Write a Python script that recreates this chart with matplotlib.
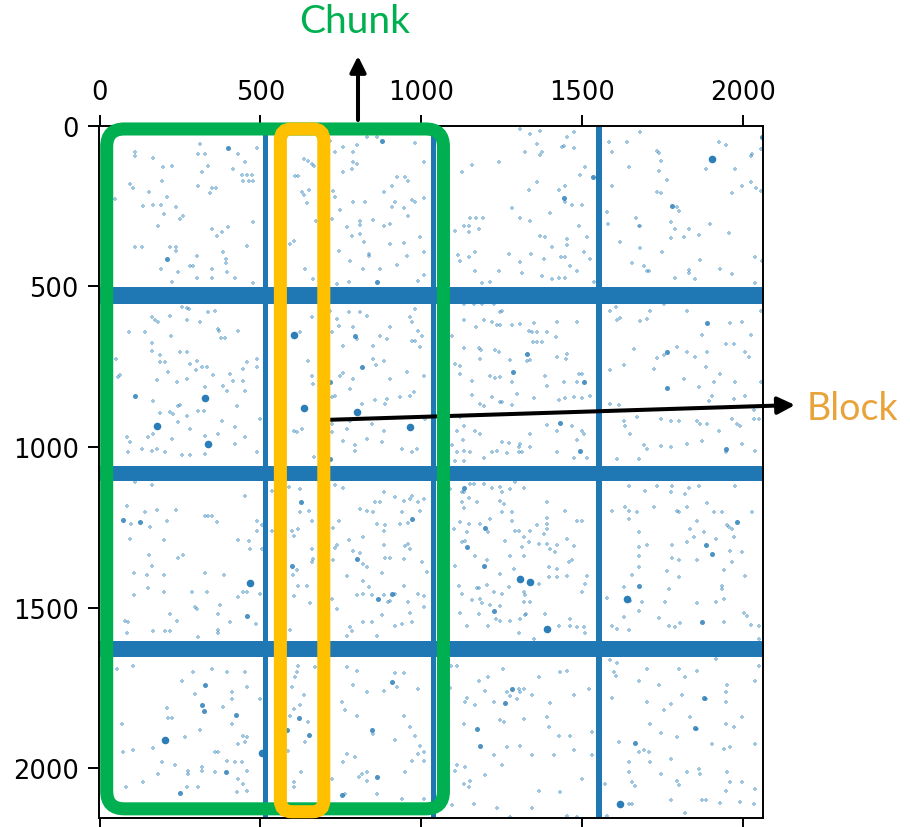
import numpy as np
import matplotlib
matplotlib.use("Agg")
import matplotlib.pyplot as plt
from matplotlib.patches import FancyBboxPatch

# matrix shape (rows, cols) of the spy plot
N_ROWS, N_COLS = 2156, 2064
ticks = [0, 500, 1000, 1500, 2000]

# dense rows / columns (inclusive index ranges)
dense_rows = [(503, 553), (1058, 1105), (1603, 1654)]
dense_cols = [(508, 524), (1030, 1046), (1545, 1563)]

# scattered nonzeros, (col, row), grouped by block row
dots_0 = [
    (110, 83), (110, 93), (167, 101), (312, 57), (307, 88), (328, 88), (431, 88), (489, 70), (452, 112),
    (198, 129), (224, 124), (338, 124), (317, 145), (442, 153), (457, 153), (473, 153), (447, 171),
    (463, 171), (478, 171), (416, 135), (193, 171), (94, 181), (105, 195), (155, 205), (307, 188),
    (349, 195), (362, 195), (343, 209), (209, 223), (48, 228), (136, 251), (167, 247), (190, 247),
    (238, 254), (200, 275), (250, 290), (258, 282), (183, 311), (478, 298), (349, 321), (380, 330),
    (398, 316), (364, 344), (110, 378), (131, 378), (219, 378), (238, 378), (238, 389), (457, 375),
    (385, 394), (302, 404), (393, 415), (393, 427), (281, 438), (289, 438), (190, 446), (245, 456),
    (349, 446), (395, 456), (302, 473), (349, 475), (421, 473), (478, 490), (224, 487),
    (634, 103), (649, 109), (660, 119), (665, 124), (608, 157), (618, 157), (628, 205), (634, 215),
    (652, 199), (646, 240), (673, 295), (605, 358), (592, 368), (639, 446), (663, 477), (686, 485),
    (717, 46), (758, 65), (800, 60), (831, 36), (862, 36), (981, 54), (732, 83), (789, 83), (789, 112),
    (758, 143), (784, 135), (800, 119), (1007, 114), (924, 161), (950, 161), (960, 171), (883, 205),
    (908, 186), (732, 223), (727, 202), (789, 238), (826, 236), (919, 236), (908, 254), (945, 257),
    (971, 230), (981, 236), (1007, 226), (748, 261), (722, 290), (769, 316), (808, 295), (810, 309),
    (851, 292), (960, 280), (903, 306), (883, 311), (784, 344), (810, 337), (822, 363), (903, 368),
    (945, 365), (997, 347), (743, 389), (839, 399), (839, 406), (955, 404), (1007, 392), (924, 432),
    (777, 420), (820, 446), (872, 446), (737, 492), (774, 487), (1007, 466), (991, 482),
    (1308, 10), (1339, 26), (1370, 15), (1453, 36), (1474, 18), (1241, 114), (1158, 122), (1127, 145),
    (1324, 83), (1360, 57), (1370, 91), (1375, 83), (1438, 67), (1443, 62), (1474, 70), (1510, 127),
    (1495, 153), (1360, 176), (1334, 199), (1427, 199), (1448, 186), (1446, 238), (1469, 247),
    (1500, 247), (1282, 257), (1308, 288), (1339, 295), (1399, 272), (1152, 287), (1171, 287),
    (1192, 287), (1132, 311), (1147, 311), (1150, 332), (1178, 321), (1106, 328), (1370, 342),
    (1386, 347), (1453, 352), (1453, 371), (1489, 311), (1515, 347), (1407, 378), (1113, 402),
    (1121, 420), (1147, 409), (1166, 394), (1272, 399), (1342, 399), (1434, 409), (1446, 407),
    (1308, 423), (1381, 415), (1505, 394), (1526, 415), (1168, 451), (1241, 451), (1313, 458),
    (1375, 468), (1407, 477), (1427, 475), (1448, 475), (1189, 490), (1213, 485), (1536, 487),
    (1484, 451), (1464, 435),
    (1583, 52), (1640, 52), (1681, 18), (1593, 83), (1645, 129), (1733, 78), (1738, 85), (1744, 109),
    (1738, 140), (1764, 169), (1925, 52), (1946, 60), (1977, 135), (2029, 88), (2024, 93), (2055, 72),
    (1884, 135), (1593, 188), (1733, 205), (1744, 209), (1795, 254), (1801, 264), (1998, 186),
    (2024, 176), (2042, 195), (2055, 202), (1966, 209), (1578, 267), (1557, 295), (1580, 306),
    (1669, 287), (1676, 311), (1681, 313), (1775, 300), (1790, 321), (1832, 321), (1816, 347),
    (1775, 350), (1863, 340), (1897, 306), (1956, 334), (1617, 363), (1681, 381), (1749, 392),
    (1655, 427), (1692, 435), (1702, 451), (1790, 475), (1832, 448), (1832, 458), (1868, 417),
    (1930, 446), (1966, 461), (2039, 409), (2060, 420), (1852, 477), (1707, 451), (2039, 490),
]
dots_1 = [
    (255, 565), (271, 568), (279, 570), (162, 596), (172, 606), (183, 610), (219, 591), (271, 606),
    (312, 612), (359, 575), (338, 580), (369, 632), (372, 638), (431, 638), (390, 661), (378, 661),
    (91, 643), (141, 643), (221, 653), (162, 700), (162, 676), (250, 703), (271, 703), (188, 715),
    (51, 726), (302, 731), (300, 759), (317, 752), (333, 752), (188, 736), (203, 736), (63, 775),
    (58, 783), (214, 765), (281, 741), (354, 775), (406, 772), (447, 757), (457, 736), (489, 752),
    (489, 726), (177, 790), (240, 798), (271, 788), (385, 809), (416, 793), (447, 793), (328, 814),
    (395, 824), (452, 824), (167, 858), (250, 869), (245, 873), (307, 889), (323, 889), (219, 892),
    (229, 897), (188, 894), (271, 902), (426, 873), (245, 923), (281, 943), (380, 918), (421, 938),
    (84, 969), (94, 985), (151, 969), (167, 959), (224, 975), (328, 966), (369, 959), (421, 990),
    (452, 969), (499, 912), (89, 1016), (131, 1006), (162, 1011), (203, 1016), (255, 1026),
    (281, 1026), (328, 1021), (489, 1016), (177, 1006),
    (660, 596), (623, 643), (603, 949), (613, 952), (628, 945), (649, 731), (660, 778), (663, 803),
    (717, 575), (737, 601), (774, 580), (810, 580), (831, 591), (789, 627), (800, 663), (743, 622),
    (722, 643), (758, 684), (851, 684), (872, 653), (893, 663), (965, 596), (971, 612), (981, 570),
    (991, 638), (1002, 653), (971, 669), (981, 669), (997, 689), (903, 627), (851, 726), (883, 731),
    (860, 746), (748, 778), (758, 769), (789, 788), (779, 819), (732, 840), (722, 845), (815, 866),
    (857, 855), (893, 850), (888, 866), (934, 845), (965, 840), (976, 829), (903, 788), (955, 767),
    (1007, 778), (1012, 912), (779, 918), (846, 928), (883, 949), (722, 928), (696, 923), (769, 943),
    (831, 975), (758, 980), (794, 993), (794, 1011), (877, 985), (940, 1006), (971, 1016),
    (986, 1006), (665, 1032), (722, 954),
    (1132, 555), (1163, 555), (1189, 555), (1225, 555), (1246, 580), (1251, 575), (1132, 604),
    (1194, 604), (1220, 610), (1235, 620), (1246, 620), (1171, 627), (1282, 620), (1306, 617),
    (1334, 638), (1344, 643), (1360, 641), (1349, 615), (1391, 641), (1422, 610), (1484, 612),
    (1420, 656), (1347, 672), (1360, 672), (1375, 672), (1095, 653), (1132, 692), (1178, 692),
    (1186, 697), (1230, 697), (1241, 703), (1329, 731), (1339, 728), (1422, 720), (1453, 710),
    (1451, 726), (1277, 728), (1184, 726), (1106, 741), (1119, 748), (1119, 772), (1215, 778),
    (1230, 786), (1246, 783), (1282, 798), (1158, 795), (1386, 778), (1489, 772), (1500, 772),
    (1484, 798), (1443, 796), (1391, 809), (1158, 838), (1184, 866), (1194, 871), (1220, 845),
    (1246, 860), (1251, 860), (1298, 835), (1282, 868), (1349, 848), (1427, 855), (1448, 848),
    (1474, 845), (1500, 848), (1526, 840), (1121, 907), (1132, 933), (1111, 949), (1168, 949),
    (1184, 959), (1130, 977), (1251, 983), (1272, 987), (1308, 990), (1303, 1000), (1339, 1000),
    (1391, 931), (1422, 949), (1469, 933), (1500, 949), (1505, 959), (1484, 977), (1339, 959),
    (1095, 995), (1111, 1016), (1132, 1011), (1152, 1014), (1106, 1042), (1132, 1042), (1194, 1035),
    (1220, 1014), (1235, 1011), (1267, 1018), (1303, 1016), (1313, 1014), (1422, 1016), (1474, 1035),
    (1515, 1035),
    (1588, 575), (1604, 565), (1619, 599), (1609, 606), (1681, 607), (1702, 601), (1712, 575),
    (1754, 555), (1826, 575), (1959, 614), (1998, 612), (2024, 651), (2055, 578), (1873, 651),
    (1946, 679), (1972, 679), (1889, 705), (1754, 713), (1826, 705), (1795, 689), (1661, 695),
    (2008, 703), (2018, 720), (1852, 720), (1884, 752), (1733, 724), (1723, 757), (1629, 746),
    (1588, 759), (1863, 814), (1816, 788), (1909, 796), (1930, 772), (1977, 798), (2055, 798),
    (2008, 842), (1972, 850), (1904, 840), (1894, 858), (2034, 886), (1588, 866), (1614, 868),
    (1629, 918), (1635, 933), (1671, 907), (1744, 912), (1775, 920), (1801, 918), (1858, 918),
    (1868, 928), (1889, 928), (1925, 949), (1966, 912), (1982, 928), (1992, 933), (2034, 912),
    (2049, 912), (1692, 995), (1702, 1006), (1744, 997), (1775, 1000), (1826, 990), (1873, 980),
    (1946, 1016), (1998, 990), (2039, 1011), (1609, 1037), (1676, 1037), (1650, 959),
]
dots_2 = [
    (110, 1110), (162, 1118), (84, 1182), (141, 1203), (177, 1195), (238, 1195), (97, 1241),
    (157, 1248), (209, 1229), (328, 1216), (338, 1216), (349, 1216), (364, 1234), (452, 1153),
    (489, 1229), (489, 1260), (94, 1286), (200, 1288), (431, 1288), (463, 1293), (466, 1317),
    (504, 1244), (504, 1317), (155, 1335), (162, 1369), (245, 1346), (258, 1335), (108, 1393),
    (148, 1398), (200, 1398), (328, 1393), (388, 1398), (151, 1439), (200, 1450), (286, 1450),
    (335, 1452), (447, 1452), (457, 1452), (429, 1467), (108, 1462), (499, 1457), (297, 1498),
    (302, 1504), (374, 1491), (219, 1521), (369, 1521), (79, 1540), (89, 1545), (242, 1540),
    (167, 1573), (203, 1573), (219, 1573), (84, 1578), (369, 1568), (369, 1578), (307, 1590),
    (406, 1545), (486, 1552),
    (535, 1136), (590, 1125), (623, 1130), (535, 1260), (597, 1260), (603, 1276), (618, 1255),
    (623, 1203), (652, 1200), (660, 1229), (600, 1398), (613, 1384), (618, 1433), (644, 1433),
    (603, 1465), (660, 1317), (663, 1348), (660, 1358), (654, 1486), (592, 1568), (732, 1118),
    (758, 1128), (883, 1141), (919, 1154), (857, 1172), (872, 1172), (743, 1229), (810, 1193),
    (831, 1198), (851, 1203), (727, 1252), (774, 1288), (820, 1281), (862, 1239), (883, 1260),
    (888, 1244), (945, 1167), (965, 1161), (971, 1151), (991, 1172), (997, 1198), (1007, 1161),
    (940, 1203), (934, 1239), (960, 1237), (965, 1317), (960, 1301), (950, 1307), (883, 1305),
    (737, 1305), (732, 1315), (789, 1322), (808, 1330), (820, 1364), (831, 1374), (888, 1346),
    (903, 1346), (945, 1348), (1002, 1358), (1017, 1390), (877, 1393), (727, 1350), (769, 1400),
    (820, 1416), (836, 1436), (800, 1462), (820, 1457), (846, 1459), (883, 1462), (919, 1457),
    (898, 1483), (903, 1478), (960, 1481), (991, 1457), (1007, 1464), (945, 1431), (722, 1473),
    (737, 1504), (779, 1561), (784, 1574), (820, 1545), (846, 1545), (862, 1587), (877, 1524),
    (919, 1556), (940, 1550), (971, 1545), (965, 1516), (1007, 1498), (769, 1587),
    (1090, 1130), (1127, 1139), (1132, 1141), (1152, 1115), (1163, 1115), (1194, 1115), (1220, 1128),
    (1246, 1125), (1251, 1141), (1277, 1130), (1292, 1108), (1318, 1128), (1127, 1172), (1132, 1190),
    (1147, 1159), (1173, 1172), (1246, 1167), (1256, 1177), (1215, 1224), (1184, 1239), (1147, 1239),
    (1121, 1234), (1251, 1203), (1282, 1203), (1282, 1229), (1142, 1265), (1137, 1291), (1127, 1296),
    (1101, 1255), (1209, 1265), (1261, 1291), (1292, 1260), (1303, 1260), (1318, 1281), (1339, 1260),
    (1360, 1244), (1391, 1222), (1391, 1239), (1391, 1255), (1381, 1270), (1391, 1301), (1334, 1296),
    (1365, 1301), (1313, 1312), (1318, 1338), (1401, 1317), (1422, 1305), (1417, 1327), (1453, 1286),
    (1474, 1307), (1448, 1198), (1484, 1229), (1500, 1229), (1391, 1172), (1168, 1338), (1204, 1350),
    (1106, 1369), (1246, 1395), (1277, 1338), (1287, 1379), (1396, 1374), (1422, 1379), (1458, 1358),
    (1469, 1353), (1396, 1405), (1422, 1405), (1453, 1400), (1515, 1400), (1510, 1426), (1500, 1452),
    (1116, 1431), (1127, 1457), (1173, 1439), (1178, 1439), (1158, 1475), (1184, 1473), (1189, 1485),
    (1215, 1493), (1246, 1495), (1204, 1429), (1225, 1450), (1251, 1457), (1272, 1436), (1318, 1450),
    (1318, 1481), (1339, 1481), (1324, 1462), (1365, 1426), (1121, 1516), (1178, 1519), (1233, 1535),
    (1246, 1540), (1308, 1535), (1324, 1524), (1327, 1519), (1386, 1521), (1142, 1556), (1209, 1556),
    (1303, 1578), (1427, 1556), (1464, 1535), (1462, 1556), (1484, 1561), (1505, 1561), (1510, 1578),
    (1277, 1540), (1349, 1597),
    (1645, 1122), (1697, 1136), (1733, 1120), (1775, 1141), (1780, 1120), (1821, 1146), (1832, 1128),
    (1863, 1120), (1977, 1122), (1593, 1198), (1635, 1187), (1645, 1198), (1645, 1224), (1671, 1203),
    (1723, 1187), (1795, 1198), (1801, 1203), (1826, 1187), (1858, 1229), (1889, 1174), (1909, 1203),
    (1935, 1201), (1951, 1244), (1956, 1250), (2029, 1203), (1676, 1265), (1837, 1255), (1847, 1281),
    (1878, 1265), (1966, 1255), (1972, 1281), (1676, 1312), (1702, 1305), (1676, 1338), (1780, 1305),
    (1826, 1296), (1915, 1286), (1961, 1322), (1998, 1327), (1780, 1346), (1801, 1353), (1858, 1353),
    (1966, 1358), (1676, 1374), (1655, 1398), (1764, 1387), (1801, 1405), (1941, 1384), (2008, 1402),
    (1629, 1436), (1769, 1441), (1935, 1431), (1935, 1443), (1650, 1478), (1687, 1481), (1759, 1481),
    (1858, 1485), (1915, 1481), (1941, 1473), (1578, 1470), (1676, 1509), (1738, 1533), (1629, 1530),
    (1593, 1556), (1609, 1566), (1645, 1568), (1769, 1556), (1790, 1561), (1806, 1547), (1941, 1543),
    (2003, 1516), (2013, 1526), (2024, 1553), (2049, 1556), (2049, 1597),
]
dots_3 = [
    (55, 1692), (105, 1680), (255, 1727), (289, 1701), (349, 1690), (395, 1701), (452, 1701),
    (457, 1747), (411, 1761), (411, 1784), (297, 1768), (385, 1810), (209, 1813), (214, 1842),
    (224, 1842), (69, 1861), (411, 1861), (499, 1784), (266, 1901), (312, 1882), (447, 1898),
    (457, 1903), (431, 1924), (452, 1918), (359, 1950), (369, 1950), (167, 1937), (103, 1944),
    (74, 1950), (193, 1981), (234, 1989), (276, 2007), (276, 2017), (317, 1996), (317, 2007),
    (359, 2012), (395, 1976), (421, 1979), (442, 1979), (457, 2007), (183, 2017), (136, 2043),
    (431, 2033), (447, 2048), (82, 2058), (271, 2058), (307, 2058), (426, 2074), (457, 2069),
    (618, 1680), (613, 1701), (608, 1716), (670, 1685), (597, 1747), (634, 1773), (623, 1802),
    (603, 1815), (592, 1836), (649, 1856), (637, 1918), (587, 1947), (626, 2012), (603, 2041),
    (603, 2058), (769, 1685), (800, 1696), (789, 1742), (753, 1794), (763, 1818), (800, 1838),
    (831, 1763), (883, 1760), (919, 1703), (945, 1703), (924, 1747), (991, 1753), (945, 1836),
    (965, 1872), (981, 1898), (851, 1893), (919, 1913), (997, 1929), (1007, 1950), (991, 1955),
    (1007, 1976), (971, 1976), (769, 1955), (794, 1965), (758, 1981), (815, 2017), (831, 2012),
    (805, 2027), (831, 2038), (950, 2012), (722, 2033), (763, 2079), (862, 2079), (940, 2095),
    (1007, 2095),
    (1092, 1680), (1111, 1680), (1090, 1750), (1178, 1727), (1209, 1716), (1254, 1690), (1267, 1763),
    (1303, 1753), (1308, 1763), (1318, 1753), (1365, 1716), (1453, 1696), (1432, 1701), (1521, 1753),
    (1142, 1782), (1137, 1792), (1168, 1804), (1199, 1758), (1225, 1792), (1298, 1784), (1277, 1775),
    (1344, 1773), (1401, 1796), (1474, 1773), (1132, 1861), (1246, 1851), (1256, 1856), (1318, 1846),
    (1391, 1841), (1396, 1872), (1427, 1898), (1464, 1898), (1531, 1887), (1267, 1934), (1308, 1931),
    (1225, 1960), (1251, 1989), (1344, 1960), (1412, 1960), (1531, 1958), (1474, 1942), (1111, 1989),
    (1106, 2007), (1137, 1996), (1132, 2048), (1152, 2038), (1199, 2022), (1500, 2033), (1147, 2058),
    (1365, 2069), (1432, 2074), (1235, 2124), (1163, 2110), (1095, 2115), (1277, 2152), (1344, 2124),
    (1453, 2147), (1484, 2152),
    (1588, 1664), (1598, 1701), (1604, 1713), (1609, 1672), (1702, 1690), (1676, 1727), (1738, 1742),
    (1801, 1690), (1821, 1716), (1858, 1696), (1915, 1659), (1951, 1742), (1946, 1763), (1946, 1794),
    (2039, 1727), (2049, 1680), (1593, 1782), (1702, 1794), (1754, 1817), (1775, 1799), (1811, 1773),
    (1884, 1784), (1998, 1841), (1837, 1841), (1858, 1879), (1744, 1889), (1712, 1861), (1795, 1903),
    (1946, 1861), (1972, 1872), (1614, 1918), (1676, 1950), (1692, 1944), (1707, 1950), (1712, 1981),
    (1645, 1979), (1645, 2012), (1655, 2043), (1744, 2017), (1775, 1970), (1795, 2038), (1801, 2051),
    (1826, 2012), (1863, 2001), (1866, 2017), (1904, 1924), (1941, 1939), (1961, 1934), (2039, 1924),
    (2039, 2064), (1998, 2041), (1951, 2012), (1946, 2072), (1961, 2041), (1572, 2048), (1645, 2110),
    (1655, 2110), (1775, 2100), (1873, 2100), (1884, 2100), (1930, 2107), (1992, 2105), (2034, 2110),
    (1821, 2139), (1578, 2147), (1666, 2055),
]
# small clumps of nonzeros (look like thicker dots)
clumps = [
    (400, 70), (209, 415), (877, 46), (862, 487), (1534, 158), (1443, 226), (2060, 36), (1780, 251),
    (110, 842), (717, 798), (794, 653), (815, 752), (717, 1037), (1329, 710), (1285, 767),
    (1505, 796), (1432, 925), (1495, 1011), (1889, 614), (1764, 705), (1764, 817), (1946, 1006),
    (74, 1227), (126, 1232), (457, 1526), (625, 1172), (597, 1369), (971, 1224), (800, 1348),
    (867, 1473), (908, 1457), (1132, 1128), (1199, 1253), (1142, 1312), (1194, 1369), (1225, 1509),
    (1982, 1234), (1884, 1305), (1904, 1333), (1676, 1433), (1873, 1543),
    (328, 1740), (317, 1804), (323, 1820), (423, 1833), (393, 2012), (250, 2076), (621, 1844),
    (582, 1882), (652, 1896), (908, 1730), (846, 1882), (862, 2027), (753, 2084), (1282, 1753),
    (1261, 1796), (1173, 1877), (1184, 1929), (1878, 1782), (1852, 1875), (1666, 1921),
]
big_clumps = [
    (1904, 103), (328, 848), (177, 933), (338, 990), (603, 651), (634, 879), (800, 892), (965, 938),
    (468, 1424), (1308, 1412), (1339, 1421), (1391, 1566), (1640, 1473), (203, 1913), (504, 1953),
    (1619, 2110),
]

BLUE = "#1f77b4"
GREEN = "#00b050"
GOLD = "#ffc000"
BLOCK_TXT = "#e8a33a"

fig = plt.figure(figsize=(9.1, 8.28), dpi=100)
ax = fig.add_axes([0.1093, 0.0105, 0.7295, 0.8366])

for r0, r1 in dense_rows:
    ax.axhspan(r0 - 0.5, r1 + 0.5, color=BLUE, lw=0, zorder=1)
for c0, c1 in dense_cols:
    ax.axvspan(c0 - 0.5, c1 + 0.5, color=BLUE, lw=0, zorder=1)

dots = np.array(dots_0 + dots_1 + dots_2 + dots_3)
ax.scatter(dots[:, 0], dots[:, 1], marker="P", s=10, color=BLUE, alpha=0.42, linewidths=0, zorder=2)
cl = np.array(clumps)
ax.scatter(cl[:, 0], cl[:, 1], marker="o", s=13, color=BLUE, alpha=0.8, linewidths=0, zorder=2)
bc = np.array(big_clumps)
ax.scatter(bc[:, 0], bc[:, 1], marker="o", s=30, color=BLUE, alpha=0.95, linewidths=0, zorder=2)

ax.set_xlim(-0.5, N_COLS - 0.5)
ax.set_ylim(N_ROWS - 0.5, -0.5)
ax.xaxis.tick_top()
ax.xaxis.set_ticks_position("both")
ax.set_xticks(ticks)
ax.set_yticks(ticks)
ax.tick_params(labelsize=18.5, length=8, width=1.4, pad=7)
for sp in ax.spines.values():
    sp.set_linewidth(1.4)

# chunk / block outlines
chunk = FancyBboxPatch((22, 10), 1047, 2116, boxstyle="round,pad=0,rounding_size=55",
                       transform=ax.transData, fill=False, ec=GREEN, lw=9.4, clip_on=False, zorder=5)
block = FancyBboxPatch((562, 10), 135, 2125, boxstyle="round,pad=0,rounding_size=35",
                       transform=ax.transData, fill=False, ec=GOLD, lw=9.4, clip_on=False, zorder=6)
ax.add_patch(chunk)
ax.add_patch(block)

ax.annotate("", xy=(358, 771), xytext=(358, 707), xycoords="figure pixels",
            textcoords="figure pixels",
            arrowprops=dict(arrowstyle="-|>", lw=2.9, color="black", mutation_scale=24,
                            shrinkA=0, shrinkB=0))
ax.annotate("", xy=(795, 422), xytext=(323, 407), xycoords="figure pixels",
            textcoords="figure pixels",
            arrowprops=dict(arrowstyle="-|>", lw=2.9, color="black", mutation_scale=26,
                            shrinkA=0, shrinkB=0))

fig.text(355 / 910, 1 - 22 / 828, "Chunk", color=GREEN, fontsize=28, family="Lato",
         ha="center", va="center")
fig.text(807 / 910, 408 / 828, "Block", color=BLOCK_TXT, fontsize=27, family="Lato",
         ha="left", va="baseline")

fig.savefig("out.png", dpi=100)
